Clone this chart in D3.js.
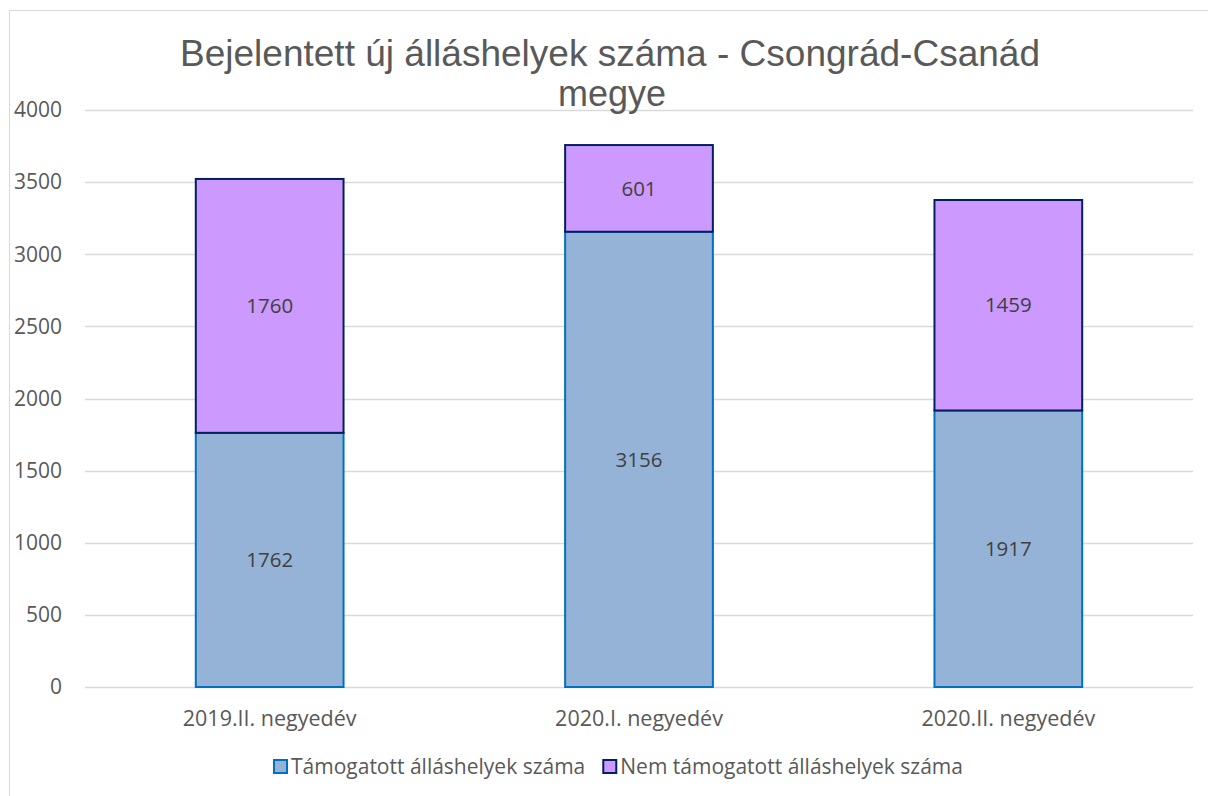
<!DOCTYPE html>
<html>
<head>
<meta charset="utf-8">
<script src="https://cdn.jsdelivr.net/npm/d3@7"></script>
<style>
  body { margin: 0; background: #fff; }
  svg { display: block; }
</style>
</head>
<body>
<script>
// data
var categories = ["2019.II. negyedév", "2020.I. negyedév", "2020.II. negyedév"]
var supported = [1762, 3156, 1917]
var notSupported = [1760, 601, 1459]
var seriesNames = ["Támogatott álláshelyek száma", "Nem támogatott álláshelyek száma"]
var yTicks = [0, 500, 1000, 1500, 2000, 2500, 3000, 3500, 4000]

var W = 1208, H = 796
var plotLeft = 85, plotRight = 1193, plotTop = 110, plotBottom = 687
var labelFont = "'Open Sans', 'Noto Sans', sans-serif"
var labelSize = 20.5

var svg = d3.select("body").append("svg")
  .attr("width", W)
  .attr("height", H)

// chart frame
svg.append("rect")
  .attr("x", 9.5).attr("y", 10.5)
  .attr("width", 1210).attr("height", 800)
  .attr("fill", "#fff")
  .attr("stroke", "#d9d9d9")

var x = d3.scaleBand()
  .domain(categories)
  .range([plotLeft, plotRight])
  .paddingInner(0.6)
  .paddingOuter(0.3)

var y = d3.scaleLinear()
  .domain([0, 4000])
  .range([plotBottom, plotTop])

// gridlines
svg.append("g").selectAll("line")
  .data(yTicks)
  .join("line")
  .attr("x1", plotLeft).attr("x2", plotRight)
  .attr("y1", d => Math.round(y(d)) + 0.5)
  .attr("y2", d => Math.round(y(d)) + 0.5)
  .attr("stroke", "#d9d9d9")
  .attr("stroke-width", 1.5)

// y tick labels
svg.append("g").selectAll("text")
  .data(yTicks)
  .join("text")
  .attr("x", 62)
  .attr("y", d => y(d))
  .attr("dy", "0.35em")
  .attr("text-anchor", "end")
  .attr("font-family", labelFont)
  .attr("font-size", 21)
  .attr("fill", "#595959")
  .text(d => d)

var stackData = categories.map((c, i) => ({ cat: c, s0: supported[i], s1: notSupported[i] }))
var stack = d3.stack().keys(["s0", "s1"])(stackData)
var fills = ["#95b3d7", "#cc99ff"]
var strokes = ["#0070c0", "#002060"]

stack.forEach((layer, k) => {
  svg.append("g").selectAll("rect")
    .data(layer)
    .join("rect")
    .attr("x", d => x(d.data.cat))
    .attr("width", x.bandwidth())
    .attr("y", d => y(d[1]))
    .attr("height", d => y(d[0]) - y(d[1]))
    .attr("fill", fills[k])
    .attr("stroke", strokes[k])
    .attr("stroke-width", 2)
})

// data labels
stack.forEach(layer => {
  svg.append("g").selectAll("text")
    .data(layer)
    .join("text")
    .attr("x", d => x(d.data.cat) + x.bandwidth() / 2)
    .attr("y", d => (y(d[0]) + y(d[1])) / 2)
    .attr("dy", "0.35em")
    .attr("text-anchor", "middle")
    .attr("font-family", labelFont)
    .attr("font-size", labelSize)
    .attr("fill", "#404040")
    .text(d => d[1] - d[0])
})

// x labels
svg.append("g").selectAll("text")
  .data(categories)
  .join("text")
  .attr("x", d => x(d) + x.bandwidth() / 2)
  .attr("y", 726)
  .attr("text-anchor", "middle")
  .attr("font-family", labelFont)
  .attr("font-size", 21.5)
  .attr("fill", "#595959")
  .text(d => d)

// title
var title = svg.append("text")
  .attr("text-anchor", "middle")
  .attr("font-family", "'Liberation Sans', Arial, sans-serif")
  .attr("font-size", 36)
  .attr("fill", "#595959")
title.append("tspan").attr("x", 610).attr("y", 66)
  .attr("textLength", 860).attr("lengthAdjust", "spacingAndGlyphs")
  .text("Bejelentett új álláshelyek száma - Csongrád-Csanád")
title.append("tspan").attr("x", 612).attr("y", 106).text("megye")

// legend
var legend = svg.append("g")
var lx = 274
seriesNames.forEach((name, k) => {
  legend.append("rect")
    .attr("x", lx).attr("y", 760)
    .attr("width", 13).attr("height", 13)
    .attr("fill", fills[k])
    .attr("stroke", strokes[k])
    .attr("stroke-width", 2)
  var t = legend.append("text")
    .attr("x", lx + 17).attr("y", 774)
    .attr("font-family", labelFont)
    .attr("font-size", 21)
    .attr("fill", "#595959")
    .text(name)
  lx += 17 + t.node().getComputedTextLength() + 18
})
</script>
</body>
</html>
